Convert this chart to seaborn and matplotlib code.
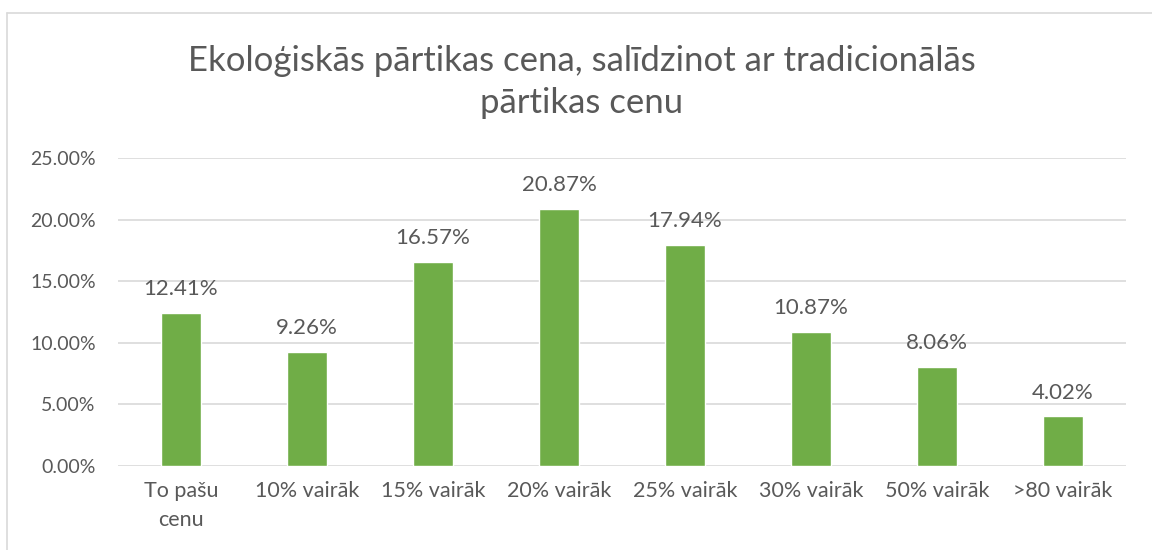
import matplotlib
matplotlib.use("Agg")
import matplotlib.pyplot as plt
import seaborn as sns
import pandas as pd
from matplotlib.lines import Line2D
from matplotlib.ticker import FuncFormatter

categories = ["To pašu\ncenu", "10% vairāk", "15% vairāk", "20% vairāk",
              "25% vairāk", "30% vairāk", "50% vairāk", ">80 vairāk"]
values = [12.41, 9.26, 16.57, 20.87, 17.94, 10.87, 8.06, 4.02]
title = "Ekoloģiskās pārtikas cena, salīdzinot ar tradicionālās\npārtikas cenu"

sns.set_theme(style="white")
plt.rcParams['font.family'] = ['Lato', 'DejaVu Sans']

df = pd.DataFrame({"cat": categories, "val": values})

W, H = 1152, 550
fig = plt.figure(figsize=(W / 100, H / 100), dpi=100)
ax = fig.add_axes([118 / W, 1 - 466 / H, (1126 - 118) / W, (466 - 158) / H])

sns.barplot(data=df, x="cat", y="val", color="#70AD47", width=0.317,
            saturation=1, ax=ax, zorder=3)

ax.set_ylim(0, 25)
ax.set_yticks([0, 5, 10, 15, 20, 25])
ax.yaxis.set_major_formatter(FuncFormatter(lambda v, p: f"{v:.2f}%"))
ax.grid(axis="y", color="#D9D9D9", linewidth=1.2, zorder=0)
ax.set_axisbelow(True)
for s in ["top", "right", "left", "bottom"]:
    ax.spines[s].set_visible(False)
ax.tick_params(axis="y", length=0, labelsize=14, colors="#595959", pad=16)
ax.tick_params(axis="x", length=0, labelsize=15.5, colors="#595959", pad=11)
for lbl in ax.get_xticklabels():
    lbl.set_linespacing(1.55)
ax.set_xlabel("")
ax.set_ylabel("")

for c in ax.containers:
    ax.bar_label(c, labels=[f"{v:.2f}%" for v in values], padding=10,
                 fontsize=16, color="#595959")

fig.text(0.505, 1 - 82 / H, title, ha="center", va="center",
         fontsize=25, color="#595959", linespacing=1.35)

# chart border (top and left)
fig.add_artist(Line2D([7 / W, 1.0], [1 - 13 / H, 1 - 13 / H], transform=fig.transFigure,
                      color="#D9D9D9", linewidth=1.2))
fig.add_artist(Line2D([7 / W, 7 / W], [0, 1 - 13 / H], transform=fig.transFigure,
                      color="#D9D9D9", linewidth=1.2))

fig.savefig("out.png", dpi=100, facecolor="white")
